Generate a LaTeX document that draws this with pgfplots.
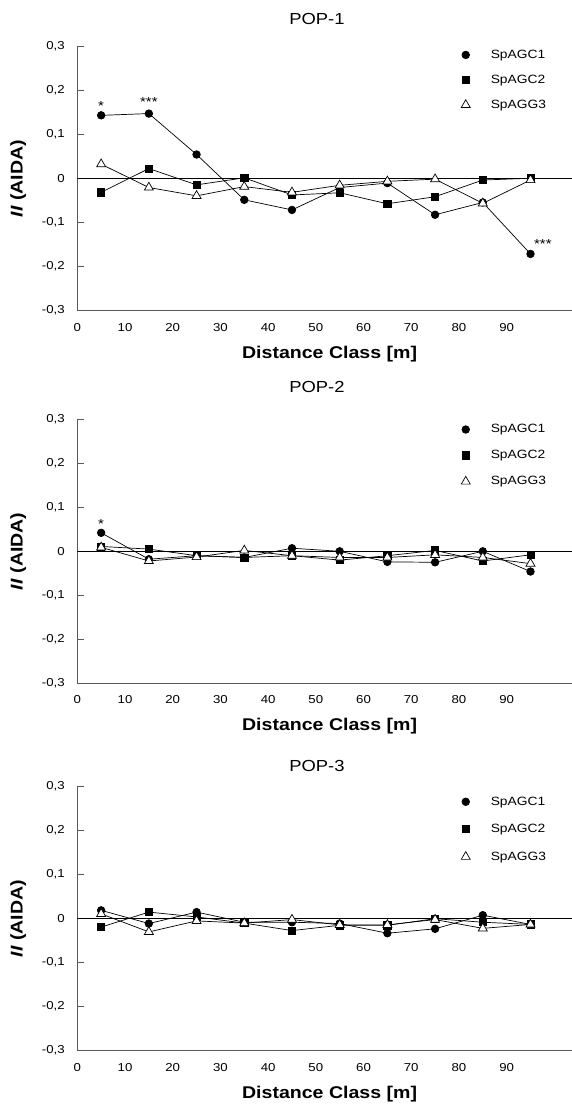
\documentclass[border=0pt]{standalone}
\usepackage{fontspec}
\setmainfont[FakeStretch=1.15]{Liberation Sans}
\usepackage{pgfplots}
\usepackage{pgfplotstable}
\pgfplotsset{compat=1.18}

\pgfplotstableread{
x  c1     c2     g3
5  0.144  -0.031  0.033
15 0.148  0.023  -0.020
25 0.055  -0.014 -0.039
35 -0.048 0.002  -0.018
45 -0.071 -0.037 -0.031
55 -0.020 -0.032 -0.015
65 -0.010 -0.057 -0.006
75 -0.082 -0.041 -0.001
85 -0.054 -0.003 -0.056
95 -0.171 0.001  -0.003
}\popone
\pgfplotstableread{
x  c1     c2     g3
5  0.042  0.011  0.009
15 -0.018 0.005  -0.022
25 -0.010 -0.010 -0.013
35 -0.014 -0.014 0.002
45 0.007  -0.010 -0.010
55 0.000  -0.020 -0.014
65 -0.024 -0.010 -0.014
75 -0.025 0.002  -0.008
85 0.000  -0.022 -0.014
95 -0.046 -0.008 -0.028
}\poptwo
\pgfplotstableread{
x  c1     c2     g3
5  0.019  -0.019 0.011
15 -0.011 0.015  -0.030
25 0.015  0.004  -0.005
35 -0.008 -0.010 -0.010
45 -0.008 -0.027 -0.002
55 -0.011 -0.015 -0.014
65 -0.033 -0.015 -0.014
75 -0.023 0.000  -0.002
85 0.008  -0.008 -0.022
95 -0.013 -0.013 -0.013
}\popthree

\pgfplotsset{
  spcA/.style={black, line width=0.7pt, mark=*, mark size=3.8pt},
  spcB/.style={black, line width=0.7pt, mark=square*, mark size=3.6pt},
  spgC/.style={black, line width=0.7pt, mark=triangle*, mark size=5.2pt, mark options={fill=white}},
  popaxis/.style={
    scale only axis, width=494.7pt, height=264pt, anchor=south west,
    xmin=0, xmax=103.7, ymin=-0.3, ymax=0.3,
    axis x line=bottom, axis y line=left,
    axis line style={-, line width=0.9pt, black!65},
    xtick={0,10,...,90}, ytick={-0.3,-0.2,-0.1,0,0.1,0.2,0.3},
    tick align=inside, major tick length=7pt,
    xtick style={draw=none}, ytick style={line width=0.8pt, black!65},
    tick label style={font=\fontsize{11.5}{13}\selectfont},
    /pgf/number format/assume math mode=true,
    yticklabel style={/pgf/number format/use comma, /pgf/number format/fixed, /pgf/number format/precision=1, xshift=-9pt},
    xticklabel style={yshift=-9pt},
    xlabel={Distance Class [m]},
    xlabel style={font=\fontsize{17}{20}\selectfont\bfseries, at={(axis description cs:0.51,-0.163)}, anchor=center},
    ylabel={\textit{II} (AIDA)},
    ylabel style={font=\fontsize{17}{20}\selectfont\bfseries, at={(axis description cs:-0.1195,0.5)}, anchor=center},
    title style={font=\fontsize{16}{19}\selectfont, anchor=center},
    legend cell align=left,
    legend style={draw=none, fill=none, anchor=north west, column sep=6pt,
      font=\fontsize{12}{14}\selectfont, nodes={inner sep=0pt}},
    legend image code/.code={\draw[##1] plot coordinates {(0pt,0pt)}; \path[draw=none, fill=none] (-6pt,-4pt) rectangle (19pt,4pt);},
  }
}

\begin{document}
\begin{tikzpicture}
\path[use as bounding box] (0,0) rectangle (572pt,1104pt);

% POP-1
\begin{axis}[popaxis, at={(77.3pt,793.3pt)}, title={POP-1},
  title style={at={(axis description cs:0.4845,1.0837)}},
  legend style={at={(axis cs:79.5,0.2975)}, row sep=15pt}]
  \draw[black, line width=0.8pt] (axis cs:0,0) -- (axis cs:103.7,0);
  \addplot[spcA] table[x=x, y=c1]{\popone};
  \addlegendentry{SpAGC1}
  \addplot[spcB] table[x=x, y=c2]{\popone};
  \addlegendentry{SpAGC2}
  \addplot[spgC] table[x=x, y=g3]{\popone};
  \addlegendentry{SpAGG3}
  \node[anchor=base, yshift=-7pt, font=\fontsize{13}{15}\selectfont] at (axis cs:5,0.170) {*};
  \node[anchor=base, yshift=-7pt, font=\fontsize{13}{15}\selectfont] at (axis cs:15,0.179) {***};
  \node[anchor=base, yshift=-7pt, font=\fontsize{13}{15}\selectfont] at (axis cs:97.6,-0.142) {***};
\end{axis}

% POP-2
\begin{axis}[popaxis, at={(77.3pt,420.7pt)}, title={POP-2},
  title style={at={(axis description cs:0.4845,1.0989)}},
  legend style={at={(axis cs:79.5,0.293)}, row sep=16pt}]
  \draw[black, line width=0.8pt] (axis cs:0,0) -- (axis cs:103.7,0);
  \addplot[spcA] table[x=x, y=c1]{\poptwo};
  \addlegendentry{SpAGC1}
  \addplot[spcB] table[x=x, y=c2]{\poptwo};
  \addlegendentry{SpAGC2}
  \addplot[spgC] table[x=x, y=g3]{\poptwo};
  \addlegendentry{SpAGG3}
  \node[anchor=base, yshift=-7pt, font=\fontsize{13}{15}\selectfont] at (axis cs:5,0.068) {*};
\end{axis}

% POP-3
\begin{axis}[popaxis, at={(77.3pt,53.3pt)}, title={POP-3},
  title style={at={(axis description cs:0.4845,1.055)}},
  legend style={at={(axis cs:79.5,0.282)}, row sep=17.5pt}]
  \draw[black, line width=0.8pt] (axis cs:0,0) -- (axis cs:103.7,0);
  \addplot[spcA] table[x=x, y=c1]{\popthree};
  \addlegendentry{SpAGC1}
  \addplot[spcB] table[x=x, y=c2]{\popthree};
  \addlegendentry{SpAGC2}
  \addplot[spgC] table[x=x, y=g3]{\popthree};
  \addlegendentry{SpAGG3}
\end{axis}
\end{tikzpicture}
\end{document}
